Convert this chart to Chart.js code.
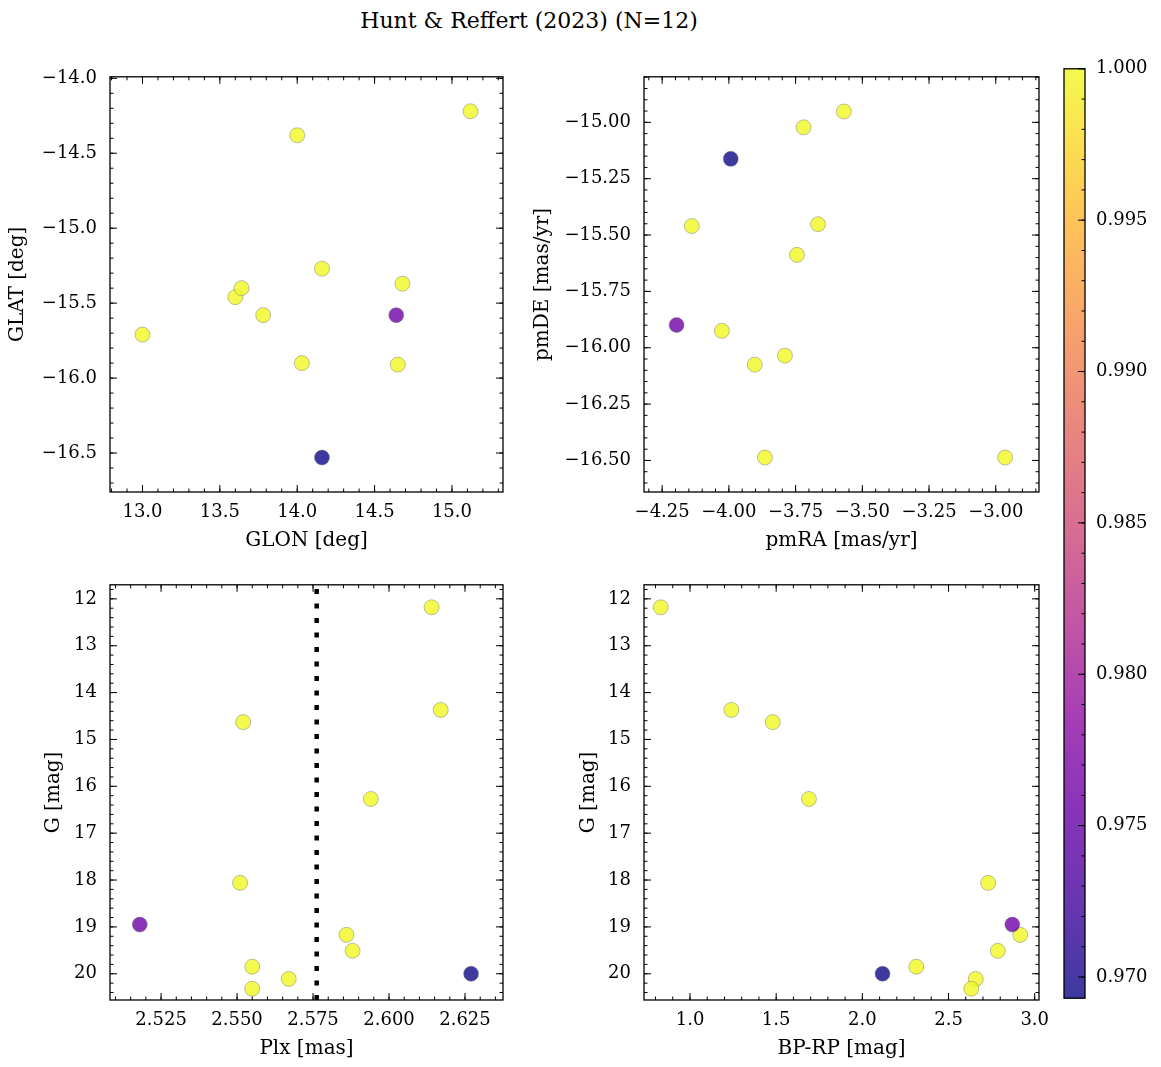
<!DOCTYPE html>
<html>
<head>
<meta charset="utf-8">
<title>Hunt &amp; Reffert (2023) (N=12)</title>
<script src="https://cdn.jsdelivr.net/npm/chart.js@4.4.0/dist/chart.umd.min.js"></script>
<style>
  html, body { margin: 0; padding: 0; background: #fff; }
  #page { position: relative; width: 1161px; height: 1067px; overflow: hidden; background: #fff; }
  #title { position: absolute; left: 0; width: 1058px; top: 7px; text-align: center;
           font-family: 'DejaVu Serif', serif; font-size: 22px; line-height: 28px; color: #000; }
  canvas { position: absolute; }
</style>
</head>
<body>
<div id="page">
  <div id="title">Hunt &amp; Reffert (2023) (N=12)</div>
</div>
<script>
// one entry per member star, same order in every array
var glon = [13.00, 13.60, 13.64, 13.78, 14.00, 14.03, 14.16, 14.16, 14.64, 14.65, 14.68, 15.12];
var glat = [-15.71, -15.46, -15.40, -15.58, -14.38, -15.90, -15.27, -16.53, -15.58, -15.91, -15.37, -14.22];
var pmra = [-4.139, -4.026, -3.903, -3.865, -3.790, -3.745, -3.720, -3.993, -4.196, -3.666, -3.569, -2.965];
var pmde = [-15.46, -15.925, -16.075, -16.487, -16.035, -15.588, -15.022, -15.162, -15.899, -15.452, -14.952, -16.487];
var plx  = [2.614, 2.617, 2.552, 2.594, 2.551, 2.586, 2.588, 2.627, 2.518, 2.555, 2.567, 2.555];
var gmag = [12.18, 14.37, 14.63, 16.27, 18.06, 19.17, 19.51, 20.00, 18.95, 19.85, 20.11, 20.32];
var bprp = [0.83, 1.24, 1.48, 1.69, 2.73, 2.916, 2.786, 2.117, 2.87, 2.313, 2.658, 2.632];
var prob = [1.0, 1.0, 1.0, 1.0, 1.0, 1.0, 1.0, 0.9693, 0.9757, 1.0, 1.0, 1.0];

// cluster mean parallax (dotted line)
var clusterPlx = 2.5762;

// tick labels
var glonTicks = [13.0, 13.5, 14.0, 14.5, 15.0];
var glatTicks = [-16.5, -16.0, -15.5, -15.0, -14.5, -14.0];
var pmraTicks = [-4.25, -4.0, -3.75, -3.5, -3.25, -3.0];
var pmdeTicks = [-16.5, -16.25, -16.0, -15.75, -15.5, -15.25, -15.0];
var plxTicks  = [2.525, 2.55, 2.575, 2.6, 2.625];
var gTicks    = [12, 13, 14, 15, 16, 17, 18, 19, 20];
var bprpTicks = [1.0, 1.5, 2.0, 2.5, 3.0];
var probTicks = [0.970, 0.975, 0.980, 0.985, 0.990, 0.995, 1.000];

var probMin = Math.min.apply(null, prob);
var probMax = Math.max.apply(null, prob);

// matplotlib plasma
var plasmaStops = [[13,8,135],[65,4,157],[106,0,168],[143,13,164],[177,42,144],[204,71,120],
                   [225,100,98],[242,132,75],[252,166,54],[252,206,37],[240,249,33]];
var markerAlpha = 0.8;

function rgba(c, a) { return 'rgba(' + c.map(Math.round).join(',') + ',' + a + ')'; }
function plasma(v) {
  var t = (v - probMin) / (probMax - probMin);
  t = Math.max(0, Math.min(1, t));
  var f = t * (plasmaStops.length - 1), i = Math.min(plasmaStops.length - 2, Math.floor(f)), u = f - i;
  var a = plasmaStops[i], b = plasmaStops[i + 1];
  return [0, 1, 2].map(function (k) { return a[k] + (b[k] - a[k]) * u; });
}

Chart.defaults.font.family = "'DejaVu Serif', serif";
Chart.defaults.color = '#000';

// box + inward ticks on all four sides
var frameTicks = {
  id: 'frameTicks',
  afterDraw: function (chart, args, opts) {
    var ctx = chart.ctx, a = chart.chartArea;
    ctx.save();
    ctx.strokeStyle = '#000';
    ctx.lineWidth = 1;
    ctx.beginPath();
    function mark(s, id, v, len) {
      var p = s.getPixelForValue(v);
      if (id === 'x') {
        ctx.moveTo(p, a.bottom); ctx.lineTo(p, a.bottom - len);
        ctx.moveTo(p, a.top); ctx.lineTo(p, a.top + len);
      } else {
        if (!opts.rightOnly) { ctx.moveTo(a.left, p); ctx.lineTo(a.left + len, p); }
        ctx.moveTo(a.right, p); ctx.lineTo(a.right - len, p);
      }
    }
    ['x', 'y'].forEach(function (id) {
      var s = chart.scales[id], step = opts[id + 'Minor'];
      if (!step) return;
      var lo = Math.min(s.min, s.max), hi = Math.max(s.min, s.max);
      for (var k = Math.ceil(lo / step - 1e-6); k * step <= hi + 1e-9; k++) mark(s, id, k * step, 3.5);
      s.ticks.forEach(function (t) { mark(s, id, t.value, 7); });
    });
    ctx.stroke();
    ctx.lineWidth = 1.3;
    ctx.strokeRect(a.left, a.top, a.right - a.left, a.bottom - a.top);
    ctx.restore();
  }
};

var plxLine = {
  id: 'plxLine',
  beforeDatasetsDraw: function (chart) {
    var ctx = chart.ctx, a = chart.chartArea;
    var x = chart.scales.x.getPixelForValue(clusterPlx);
    ctx.save();
    ctx.strokeStyle = '#000';
    ctx.lineWidth = 4.5;
    ctx.setLineDash([5, 9.5]);
    ctx.beginPath(); ctx.moveTo(x, a.bottom); ctx.lineTo(x, a.top); ctx.stroke();
    ctx.restore();
  }
};

var cbarFill = {
  id: 'cbarFill',
  beforeDatasetsDraw: function (chart) {
    var ctx = chart.ctx, a = chart.chartArea, s = chart.scales.y;
    var g = ctx.createLinearGradient(0, s.getPixelForValue(probMin), 0, s.getPixelForValue(probMax));
    plasmaStops.forEach(function (c, i) { g.addColorStop(i / (plasmaStops.length - 1), rgba(c, markerAlpha)); });
    ctx.save();
    ctx.fillStyle = g;
    ctx.fillRect(a.left, a.top, a.right - a.left, a.bottom - a.top);
    ctx.restore();
  }
};

function scaleOpts(ax, isX, size) {
  return {
    type: 'linear', display: ax.display !== false, position: ax.position || (isX ? 'bottom' : 'left'),
    min: ax.min, max: ax.max, reverse: !!ax.reverse,
    grid: { display: false, drawTicks: false },
    border: { display: false },
    ticks: {
      autoSkip: false, maxRotation: 0, padding: ax.pad, font: { size: 18 },
      callback: function (v) { return v.toFixed(ax.dec).replace('-', '\u2212'); }
    },
    title: { display: !!ax.label, text: ax.label, font: { size: 20 },
             padding: isX ? { top: 0, bottom: 9 } : { top: 6, bottom: 0 } },
    afterBuildTicks: function (s) { if (ax.ticks) s.ticks = ax.ticks.map(function (v) { return { value: v }; }); },
    afterFit: function (s) { if (isX) s.height = size; else s.width = size; }
  };
}

var page = document.getElementById('page');

function panel(area, yw, xAx, yAx, xs, ys, extra) {
  var padTop = 20, padRight = 30, xh = 70;
  var w = area.r - area.l + yw + padRight, h = area.b - area.t + padTop + xh;
  var cv = document.createElement('canvas');
  cv.width = w; cv.height = h;
  cv.style.left = (area.l - yw) + 'px';
  cv.style.top = (area.t - padTop) + 'px';
  cv.style.width = w + 'px'; cv.style.height = h + 'px';
  page.appendChild(cv);
  var plugins = [frameTicks];
  if (extra) plugins.push(extra);
  new Chart(cv, {
    type: 'scatter',
    data: {
      datasets: [{
        data: xs.map(function (v, i) { return { x: v, y: ys[i] }; }),
        pointRadius: 7.5,
        pointBackgroundColor: prob.map(function (p) { return rgba(plasma(p), markerAlpha); }),
        pointBorderColor: 'rgba(120,120,120,0.8)',
        pointBorderWidth: 0.6
      }]
    },
    options: {
      responsive: false, animation: false, events: [],
      layout: { padding: { top: padTop, right: padRight, left: 0, bottom: 0 } },
      scales: { x: scaleOpts(xAx, true, xh), y: scaleOpts(yAx, false, yw) },
      plugins: { legend: { display: false }, tooltip: { enabled: false },
                 frameTicks: { xMinor: xAx.minor, yMinor: yAx.minor } }
    },
    plugins: plugins
  });
}

panel({ l: 110, r: 503, t: 73, b: 492 }, 110,
  { min: 12.79, max: 15.33, ticks: glonTicks, minor: 0.1, dec: 1, pad: 10, label: 'GLON [deg]' },
  { min: -16.76, max: -13.99, ticks: glatTicks, minor: 0.1, dec: 1, pad: 13, label: 'GLAT [deg]' },
  glon, glat);

panel({ l: 644, r: 1039, t: 73, b: 492 }, 119,
  { min: -4.318, max: -2.838, ticks: pmraTicks, minor: 0.05, dec: 2, pad: 10, label: 'pmRA [mas/yr]' },
  { min: -16.64, max: -14.798, ticks: pmdeTicks, minor: 0.05, dec: 2, pad: 13, label: 'pmDE [mas/yr]' },
  pmra, pmde);

panel({ l: 110, r: 503, t: 581, b: 1000 }, 74,
  { min: 2.5082, max: 2.6375, ticks: plxTicks, minor: 0.005, dec: 3, pad: 10, label: 'Plx [mas]' },
  { min: 11.70, max: 20.56, reverse: true, ticks: gTicks, minor: 0.2, dec: 0, pad: 13, label: 'G [mag]' },
  plx, gmag, plxLine);

panel({ l: 644, r: 1039, t: 581, b: 1000 }, 73,
  { min: 0.733, max: 3.025, ticks: bprpTicks, minor: 0.1, dec: 1, pad: 10, label: 'BP-RP [mag]' },
  { min: 11.70, max: 20.56, reverse: true, ticks: gTicks, minor: 0.2, dec: 0, pad: 13, label: 'G [mag]' },
  bprp, gmag);

// colorbar
(function () {
  var area = { l: 1064, r: 1085, t: 67, b: 1000 }, padL = 10, padV = 20, yw = 70;
  var w = padL + area.r - area.l + yw, h = area.b - area.t + 2 * padV;
  var cv = document.createElement('canvas');
  cv.width = w; cv.height = h;
  cv.style.left = (area.l - padL) + 'px';
  cv.style.top = (area.t - padV) + 'px';
  cv.style.width = w + 'px'; cv.style.height = h + 'px';
  page.appendChild(cv);
  new Chart(cv, {
    type: 'scatter',
    data: { datasets: [{ data: [] }] },
    options: {
      responsive: false, animation: false, events: [],
      layout: { padding: { top: padV, bottom: padV, left: padL, right: 0 } },
      scales: {
        x: { type: 'linear', display: false, min: 0, max: 1 },
        y: scaleOpts({ position: 'right', min: probMin, max: probMax, ticks: probTicks, dec: 3, pad: 11 }, false, yw)
      },
      plugins: { legend: { display: false }, tooltip: { enabled: false },
                 frameTicks: { yMinor: 0.001, rightOnly: true } }
    },
    plugins: [cbarFill, frameTicks]
  });
})();
</script>
</body>
</html>
